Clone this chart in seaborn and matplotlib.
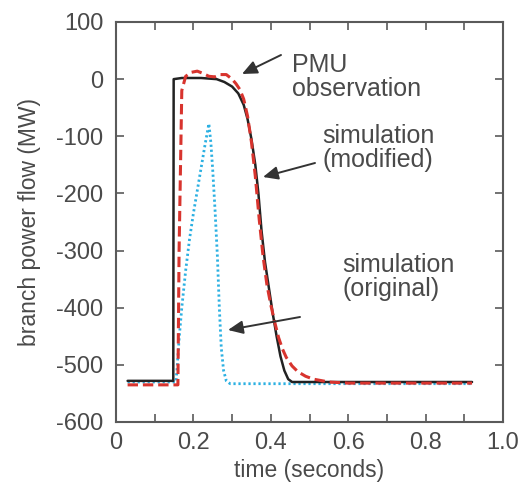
import numpy as np
import pandas as pd
import matplotlib
matplotlib.use("Agg")
import matplotlib.pyplot as plt
import seaborn as sns

# ---- data ----
t_mod = [0.03, 0.148, 0.149, 0.17, 0.22, 0.26, 0.28, 0.30, 0.316, 0.33, 0.34, 0.35, 0.36,
         0.368, 0.376, 0.385, 0.395, 0.405, 0.415, 0.425, 0.435, 0.445, 0.455, 0.92]
v_mod = [-528, -528, 0, 2, 2, 0, -5, -13, -25, -45, -70, -105, -150,
         -200, -265, -320, -365, -410, -450, -485, -510, -525, -530, -530]

t_pmu = [0.03, 0.16, 0.163, 0.17, 0.18, 0.195, 0.21, 0.225, 0.24, 0.255, 0.27, 0.285,
         0.30, 0.31, 0.32, 0.33, 0.34, 0.35, 0.36, 0.37, 0.38, 0.39, 0.40, 0.41, 0.42,
         0.43, 0.44, 0.455, 0.47, 0.49, 0.51, 0.55, 0.60, 0.92]
v_pmu = [-535, -535, -300, -20, 5, 12, 14, 10, 5, 4, 8, 8,
         0, -8, -18, -35, -65, -110, -170, -245, -310, -360, -395, -425, -452,
         -472, -487, -502, -512, -520, -525, -530, -532, -532]

t_orig = [0.03, 0.155, 0.158, 0.163, 0.17, 0.18, 0.19, 0.2, 0.21, 0.22, 0.23, 0.24,
          0.245, 0.25, 0.256, 0.262, 0.267, 0.272, 0.278, 0.285, 0.295, 0.92]
v_orig = [-530, -530, -505, -455, -400, -335, -280, -235, -195, -155, -115, -78,
          -110, -160, -230, -310, -400, -470, -510, -528, -533, -533]

x_ticks = [0, 0.1, 0.2, 0.3, 0.4, 0.5, 0.6, 0.7, 0.8, 0.9, 1.0]
x_labels = ["0", "", "0.2", "", "0.4", "", "0.6", "", "0.8", "", "1.0"]
y_ticks = [100, 0, -100, -200, -300, -400, -500, -600]

sns.set_style("ticks")
plt.rcParams['font.family'] = ['Liberation Sans', 'DejaVu Sans']

txt = "#4a4a4a"
fig = plt.figure(figsize=(5.21, 4.88), dpi=100)
ax = fig.add_axes([116/521, 1-422/488, (503-116)/521, (422-22)/488])

d_mod = pd.DataFrame({"t": t_mod, "v": v_mod})
d_pmu = pd.DataFrame({"t": t_pmu, "v": v_pmu})
d_orig = pd.DataFrame({"t": t_orig, "v": v_orig})

sns.lineplot(data=d_orig, x="t", y="v", ax=ax, color="#2bb0e2", lw=2.0,
             linestyle=(0, (0.8, 1.0)), sort=False, estimator=None)
sns.lineplot(data=d_mod, x="t", y="v", ax=ax, color="#222222", lw=1.8,
             sort=False, estimator=None)
sns.lineplot(data=d_pmu, x="t", y="v", ax=ax, color="#d8342e", lw=2.2,
             linestyle=(0, (3.4, 1.6)), sort=False, estimator=None)

ax.set_xlim(0, 1.0)
ax.set_ylim(-600, 100)
ax.set_xticks(x_ticks)
ax.set_xticklabels(x_labels)
ax.set_yticks(y_ticks)
ax.set_yticklabels([str(v) for v in y_ticks])
ax.tick_params(direction="in", length=6, width=1.2, colors="#5a5a5a",
               labelcolor=txt, labelsize=17, top=True, right=True)
ax.tick_params(axis="y", pad=9)
ax.tick_params(axis="x", pad=7)
for s in ax.spines.values():
    s.set_color("#5a5a5a")
    s.set_linewidth(1.5)
ax.set_xlabel("time (seconds)", fontsize=16.5, color=txt, labelpad=4)
ax.set_ylabel("branch power flow (MW)", fontsize=16.5, color=txt, labelpad=11)

arrow = dict(arrowstyle="-|>,head_length=0.9,head_width=0.4", color="#333333", lw=1.4,
             shrinkA=0, shrinkB=0)
def px(xp, yp):
    return ((xp - 116) / 387.0, -600 + (422 - yp) / 400.0 * 700)

ax.annotate("", xy=px(242, 74), xytext=px(281, 55), arrowprops=arrow)
ax.annotate("", xy=px(263, 177), xytext=px(315, 163), arrowprops=arrow)
ax.annotate("", xy=px(228, 330), xytext=px(300, 317), arrowprops=arrow)

ax.text(*px(292, 77), "PMU\nobservation", fontsize=18, color=txt, ha="left", va="center",
        linespacing=1.05)
ax.text(*px(322, 148), "simulation\n(modified)", fontsize=18, color=txt, ha="left", va="center",
        linespacing=1.05)
ax.text(*px(342, 277), "simulation\n(original)", fontsize=18, color=txt, ha="left", va="center",
        linespacing=1.05)

fig.savefig("out.png", dpi=100)
